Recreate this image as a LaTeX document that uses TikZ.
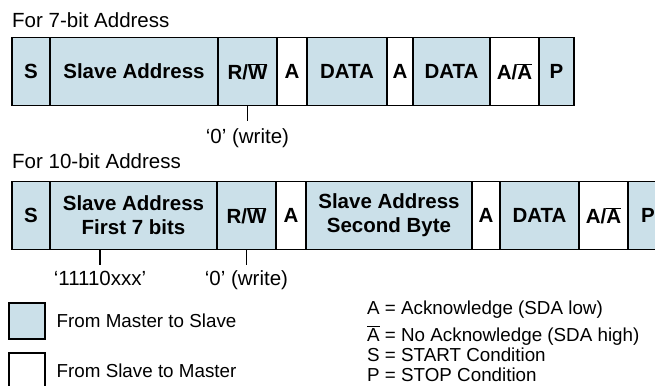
\documentclass[tikz,border=0pt]{standalone}
\usepackage{fontspec}
\setmainfont{Liberation Sans}
\usetikzlibrary{positioning}
\definecolor{mtos}{RGB}{203,224,233}
\tikzset{%
    base/.style = {
        rectangle, draw=black, line width=1.5pt, inner sep=0pt, outer sep=0pt,
        minimum height=68pt, text centered, align=center,
        font=\bfseries\fontsize{20.5}{24}\selectfont
    },
    master/.style = {base, fill=mtos},
    slave/.style = {base, fill=white},
    title/.style = {anchor=base west, inner sep=0pt, font=\fontsize{20.5}{24}\selectfont},
    note/.style = {inner sep=0pt, font=\fontsize{20.5}{24}\selectfont},
    tick/.style = {line width=1.5pt},
    key/.style = {rectangle, draw=black, line width=1.5pt, minimum size=36pt, inner sep=0pt},
    legend/.style = {inner sep=0pt, font=\fontsize{18.8}{22}\selectfont},
}
\newcommand{\nbar}[1]{$\overline{\mbox{#1}}$}

\begin{document}
\begin{tikzpicture}[x=1pt, y=-1pt]
        \useasboundingbox (0,0) rectangle (655,385);

        % 7-bit frame
        \node (head1) [title] at (12,28) {For 7-bit Address};
        \node (s1)    [master, minimum width=38pt, anchor=west] at (12,71.5) {S};
        \node (addr1) [master, minimum width=168pt, right=0pt of s1] {Slave Address};
        \node (rw1)   [master, minimum width=59pt, right=0pt of addr1] {R/\nbar{W}};
        \node (ack1)  [slave, minimum width=30pt, right=0pt of rw1] {A};
        \node (data1) [master, minimum width=80pt, right=0pt of ack1] {DATA};
        \node (ack2)  [slave, minimum width=26pt, right=0pt of data1] {A};
        \node (data2) [master, minimum width=77pt, right=0pt of ack2] {DATA};
        \node (nack1) [slave, minimum width=49pt, right=0pt of data2] {A/\nbar{A}};
        \node (p1)    [master, minimum width=35pt, right=0pt of nack1] {P};

        \draw[tick] (rw1.south) -- ++(0,15) coordinate (t1);
        \node (write1) [note, below=8pt of t1] {`0' (write)};

        % 10-bit frame
        \node (head2) [title] at (12,168) {For 10-bit Address};
        \node (s2)    [master, minimum width=38pt, anchor=west] at (12,215.5) {S};
        \node (addr2) [master, minimum width=167pt, right=0pt of s2] {Slave Address\\First 7 bits};
        \node (rw2)   [master, minimum width=59pt, right=0pt of addr2] {R/\nbar{W}};
        \node (ack3)  [slave, minimum width=30pt, right=0pt of rw2] {A};
        \node (addr3) [master, minimum width=166pt, right=0pt of ack3] {Slave Address\\Second Byte};
        \node (ack4)  [slave, minimum width=28pt, right=0pt of addr3] {A};
        \node (data3) [master, minimum width=79pt, right=0pt of ack4] {DATA};
        \node (nack2) [slave, minimum width=49pt, right=0pt of data3] {A/\nbar{A}};
        \node (p2)    [master, minimum width=40pt, right=0pt of nack2] {P};

        \coordinate (b7) at ([xshift=-33.5pt]addr2.south);
        \draw[tick] (b7) -- ++(0,15) coordinate (t2);
        \node (bits) [note, below=6pt of t2] {`11110xxx'};
        \draw[tick] (rw2.south) -- ++(0,15) coordinate (t3);
        \node (write2) [note, below=6pt of t3] {`0' (write)};

        % Legend
        \node (keyM) [key, fill=mtos, anchor=north west] at (8,302) {};
        \node (keyS) [key, fill=white, anchor=north west] at (8,352) {};
        \node (txtM) [legend, right=11pt of keyM] {From Master to Slave};
        \node (txtS) [legend, right=11pt of keyS] {From Slave to Master};

        \node (defA) [legend, anchor=base west] at (367,314) {A = Acknowledge (SDA low)};
        \node (defN) [legend, anchor=base west] at (367,341) {\nbar{A} = No Acknowledge (SDA high)};
        \node (defS) [legend, anchor=base west] at (367,361.5) {S = START Condition};
        \node (defP) [legend, anchor=base west] at (367,381) {P = STOP Condition};
    \end{tikzpicture}
\end{document}
